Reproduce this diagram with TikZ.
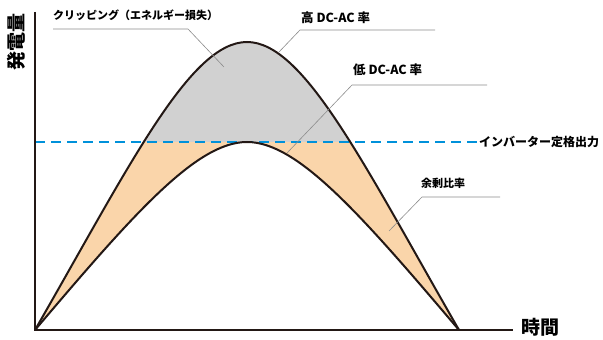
\documentclass[tikz,border=0pt]{standalone}
\usepackage{fontspec}
\setmainfont{Noto Sans CJK JP}
\usepackage{tikz}

\definecolor{curveink}{RGB}{35,24,21}
\definecolor{clipgray}{RGB}{209,209,209}
\definecolor{surplus}{RGB}{250,213,170}
\definecolor{ratedblue}{RGB}{0,145,218}
\definecolor{leadergray}{RGB}{140,140,140}

\begin{document}
\begin{tikzpicture}[x=1pt,y=1pt,
    curve/.style={draw=curveink, line width=2pt},
    axisline/.style={draw=curveink, line width=2.5pt},
    leader/.style={draw=leadergray, line width=0.6pt},
    lbl/.style={inner sep=0pt, anchor=west, font=\bfseries\fontsize{11}{13}\selectfont},
    biglbl/.style={inner sep=0pt, font=\bfseries\fontsize{19}{22}\selectfont}]
        \useasboundingbox (0,0) rectangle (603,340);

        % curve ends
        \coordinate (O) at (35,10);
        \coordinate (E) at (459,10);
        \coordinate (hiTop) at (247,298);
        \coordinate (loTop) at (247,198);

        % orange and gray areas
        \fill[surplus] (O) .. controls (130,175) and (190,298) .. (hiTop)
            .. controls (304,298) and (364,175) .. (E) -- cycle;
        \begin{scope}
            \clip (0,198) rectangle (603,340);
            \fill[clipgray] (O) .. controls (130,175) and (190,298) .. (hiTop)
                .. controls (304,298) and (364,175) .. (E) -- cycle;
        \end{scope}
        \fill[white] (O) .. controls (135,128) and (197,198) .. (loTop)
            .. controls (297,198) and (359,128) .. (E) -- cycle;

        % rated output
        \node[lbl, font=\bfseries\fontsize{12}{14}\selectfont] (rated) at (479,198) {インバーター定格出力};
        \coordinate (r0) at (35,198);
        \draw[ratedblue, line width=2.6pt, dash pattern=on 10pt off 6pt] (r0) -- (rated.west);

        % curves
        \draw[curve] (O) .. controls (130,175) and (190,298) .. (hiTop)
            .. controls (304,298) and (364,175) .. (E);
        \draw[curve] (O) .. controls (135,128) and (197,198) .. (loTop)
            .. controls (297,198) and (359,128) .. (E);

        % axes
        \coordinate (yTop) at (35,328);
        \coordinate (xEnd) at (513,10);
        \draw[axisline] (yTop) -- (O) -- (xEnd);
        \node[biglbl, anchor=west] (tlabel) at (521,13) {時間};
        \node[biglbl, rotate=90] (plabel) at (16,298) {発電量};

        % clipping
        \node[lbl] (clip) at (53,325) {クリッピング（エネルギー損失）};
        \coordinate (c1) at (53,311);
        \coordinate (c2) at (188,311);
        \coordinate (c3) at (224,273);
        \draw[leader] (c1) -- (c2) -- (c3);

        % high ratio
        \node[lbl, font=\bfseries\fontsize{12.5}{14}\selectfont] (high) at (301,322) {高 DC-AC 率};
        \coordinate (h1) at (435,310);
        \coordinate (h2) at (300,310);
        \coordinate (h3) at (279,288);
        \draw[leader] (h1) -- (h2) -- (h3);

        % low ratio
        \node[lbl, font=\bfseries\fontsize{12.5}{14}\selectfont] (low) at (353,270) {低 DC-AC 率};
        \coordinate (l1) at (487,255);
        \coordinate (l2) at (352,255);
        \coordinate (l3) at (287,187);
        \draw[leader] (l1) -- (l2) -- (l3);

        % surplus ratio
        \node[lbl] (ratio) at (421,157) {余剰比率};
        \coordinate (s1) at (500,143);
        \coordinate (s2) at (422,143);
        \coordinate (s3) at (389,109);
        \draw[leader] (s1) -- (s2) -- (s3);
    \end{tikzpicture}
\end{document}
